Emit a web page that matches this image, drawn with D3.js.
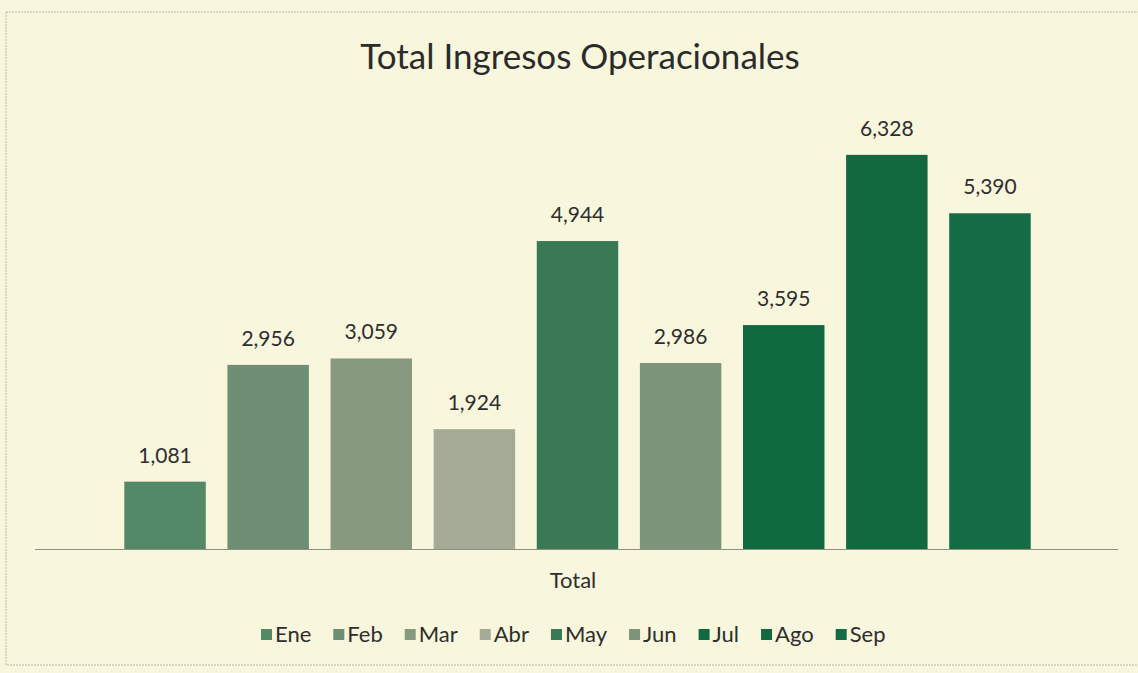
<!DOCTYPE html>
<html>
<head>
<meta charset="utf-8">
<script src="https://cdn.jsdelivr.net/npm/d3@7"></script>
<style>
  body { margin: 0; background: #f8f6dc; }
  svg { display: block; }
</style>
</head>
<body>
<div id="chart-area"></div>
<script>
const W = 1138, H = 673

// data
const months = ["Ene", "Feb", "Mar", "Abr", "May", "Jun", "Jul", "Ago", "Sep"]
const values = [1081, 2956, 3059, 1924, 4944, 2986, 3595, 6328, 5390]
const colors = ["#548968", "#6e8f75", "#87997f", "#a6ab97", "#3a7955", "#7c9479", "#0f6a40", "#12693f", "#136c44"]

const svg = d3.select("#chart-area").append("svg")
  .attr("width", W)
  .attr("height", H)
  .style("font-family", "Lato, 'Open Sans', sans-serif")

// paper + chart frame
svg.append("rect").attr("width", W).attr("height", H).attr("fill", "#f8f6dc")
svg.append("rect")
  .attr("x", 6).attr("y", 12).attr("width", W + 10).attr("height", 653)
  .attr("fill", "none").attr("stroke", "#b9b8a8").attr("stroke-width", 1)
  .attr("stroke-dasharray", "2,1")

const x = d3.scaleBand()
  .domain(months)
  .range([114, 1041])
  .paddingInner(0.21)
  .paddingOuter(0.1)

const y = d3.scaleLinear()
  .domain([0, 7000])
  .range([549, 113])

// title
svg.append("text")
  .attr("x", 580).attr("y", 69)
  .attr("text-anchor", "middle")
  .attr("font-size", 35)
  .attr("fill", "#2b2b2b")
  .text("Total Ingresos Operacionales")

// bars
svg.selectAll("rect.bar")
  .data(months)
  .join("rect")
  .attr("class", "bar")
  .attr("x", d => x(d))
  .attr("y", (d, i) => y(values[i]))
  .attr("width", x.bandwidth())
  .attr("height", (d, i) => y(0) - y(values[i]))
  .attr("fill", (d, i) => colors[i])

// baseline
svg.append("line")
  .attr("x1", 35).attr("x2", 1118)
  .attr("y1", y(0) + 0.5).attr("y2", y(0) + 0.5)
  .attr("stroke", "#8f8f86").attr("stroke-width", 1.2)

// value labels
svg.selectAll("text.val")
  .data(months)
  .join("text")
  .attr("class", "val")
  .attr("x", d => x(d) + x.bandwidth() / 2)
  .attr("y", (d, i) => y(values[i]) - 19)
  .attr("text-anchor", "middle")
  .attr("font-size", 21)
  .attr("fill", "#2e2e2e")
  .text((d, i) => d3.format(",")(values[i]))

// category label
svg.append("text")
  .attr("x", 573).attr("y", 588)
  .attr("text-anchor", "middle")
  .attr("font-size", 22)
  .attr("fill", "#2e2e2e")
  .text("Total")

// legend
const legend = svg.append("g").attr("transform", "translate(0,642)")
let lx = 261
months.forEach((m, i) => {
  const g = legend.append("g").attr("transform", `translate(${lx},0)`)
  g.append("rect")
    .attr("x", 0).attr("y", -13)
    .attr("width", 11).attr("height", 11)
    .attr("fill", colors[i])
  const t = g.append("text")
    .attr("x", 14).attr("y", 0)
    .attr("font-size", 22)
    .attr("fill", "#2e2e2e")
    .text(m)
  lx += 14 + t.node().getComputedTextLength() + 22
})
</script>
</body>
</html>
